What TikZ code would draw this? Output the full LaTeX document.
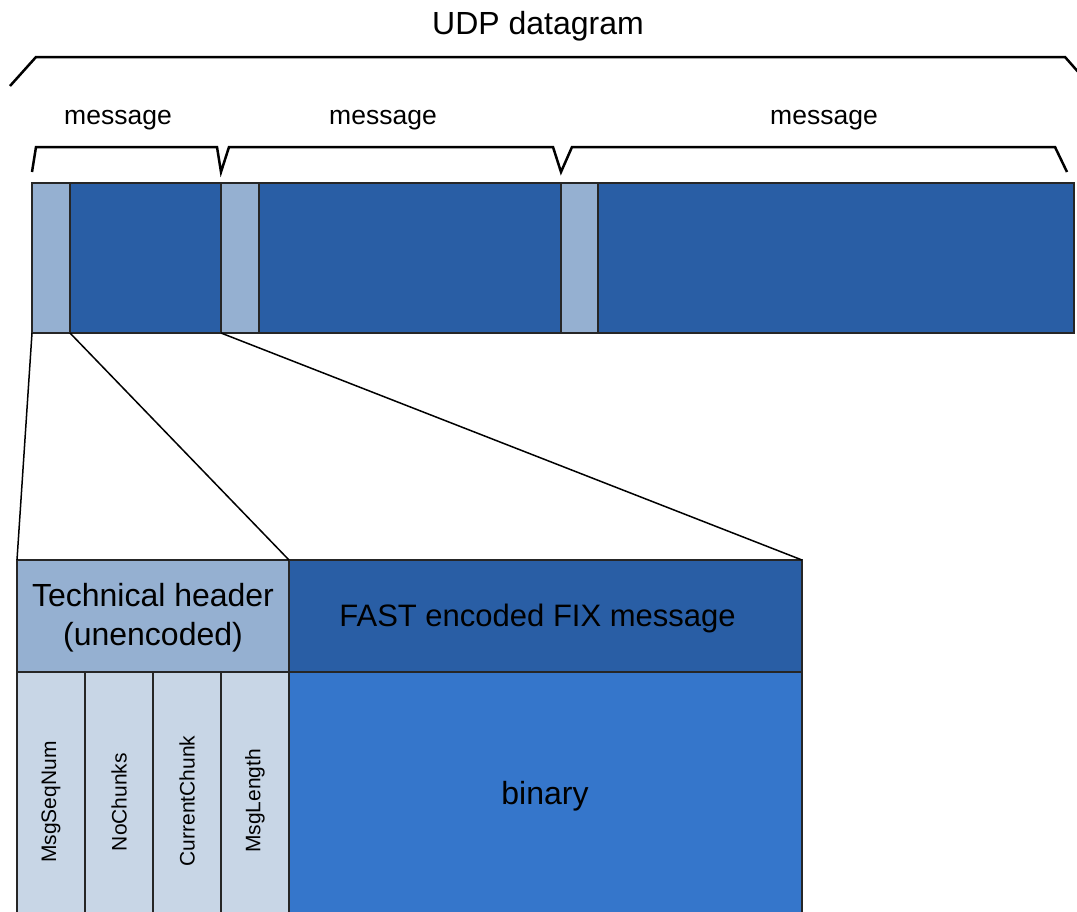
\documentclass[tikz,border=0pt]{standalone}
\usepackage{fontspec}
\setmainfont{Liberation Sans}
\definecolor{hdrc}{RGB}{149,176,209}
\definecolor{dkc}{RGB}{41,94,165}
\definecolor{colc}{RGB}{200,214,230}
\definecolor{binc}{RGB}{53,118,203}
\begin{document}
\begin{tikzpicture}[x=1pt,y=-1pt,
  seg/.style={draw=black!85,line width=1.5pt,inner sep=0pt,outer sep=0pt,anchor=north west},
  brace/.style={draw=black,line width=2.5pt,line join=miter},
  zoomline/.style={draw=black,line width=1.5pt},
  big/.style={font=\fontsize{31}{39}\selectfont,align=center},
  msg/.style={font=\fontsize{26.5}{30}\selectfont},
  vlab/.style={font=\fontsize{21}{24}\selectfont,rotate=90}]
\clip (0,0) rectangle (1077,911);
% top bar
\node[seg,fill=hdrc,minimum width=38pt,minimum height=150pt] (h1) at (32,183) {};
\node[seg,fill=dkc,minimum width=151pt,minimum height=150pt] (d1) at (70,183) {};
\node[seg,fill=hdrc,minimum width=38pt,minimum height=150pt] (h2) at (221,183) {};
\node[seg,fill=dkc,minimum width=302pt,minimum height=150pt] (d2) at (259,183) {};
\node[seg,fill=hdrc,minimum width=37pt,minimum height=150pt] (h3) at (561,183) {};
\node[seg,fill=dkc,minimum width=476pt,minimum height=150pt] (d3) at (598,183) {};
% braces
\draw[brace] (10,86) -- (36,57) -- (1065,57) -- (1080,74);
\draw[brace] (32,172) -- (36,147) -- (217,147) -- (221,172) -- (229,147) -- (553,147) -- (561,172) -- (572,147) -- (1055,147) -- (1067,172);
% labels
\node[big,font=\fontsize{32}{39}\selectfont] (udp) at (538,26) {UDP datagram};
\node[msg] (m1) at (118,120) {message};
\node[msg] (m2) at (383,120) {message};
\node[msg] (m3) at (824,120) {message};
% bottom
\node[seg,fill=hdrc,minimum width=272pt,minimum height=112pt] (th) at (17,560) {};
\node[big,font=\fontsize{32}{39}\selectfont] (thl) at ([yshift=-2pt]th.center) {Technical header\\(unencoded)};
\node[seg,fill=dkc,minimum width=513pt,minimum height=112pt] (fast) at (289,560) {};
\node[big] (fastl) at ([xshift=-8pt,yshift=-2pt]fast.center) {FAST encoded FIX message};
\node[seg,fill=colc,minimum width=68pt,minimum height=250pt] (c1) at (17,672) {};
\node[seg,fill=colc,minimum width=68pt,minimum height=250pt] (c2) at (85,672) {};
\node[seg,fill=colc,minimum width=68pt,minimum height=250pt] (c3) at (153,672) {};
\node[seg,fill=colc,minimum width=68pt,minimum height=250pt] (c4) at (221,672) {};
\node[seg,fill=binc,minimum width=513pt,minimum height=250pt] (bin) at (289,672) {};
\node[vlab] (v1) at (51,802) {MsgSeqNum};
\node[vlab] (v2) at (119,802) {NoChunks};
\node[vlab] (v3) at (187,801) {CurrentChunk};
\node[vlab] (v4) at (255,801) {MsgLength};
\node[big,font=\fontsize{32}{39}\selectfont] (binl) at (545,796) {binary};
% zoom lines
\draw[zoomline] (h1.south west) -- (th.north west);
\draw[zoomline] (h1.south east) -- (th.north east);
\draw[zoomline] (d1.south east) -- (fast.north east);
\end{tikzpicture}
\end{document}
